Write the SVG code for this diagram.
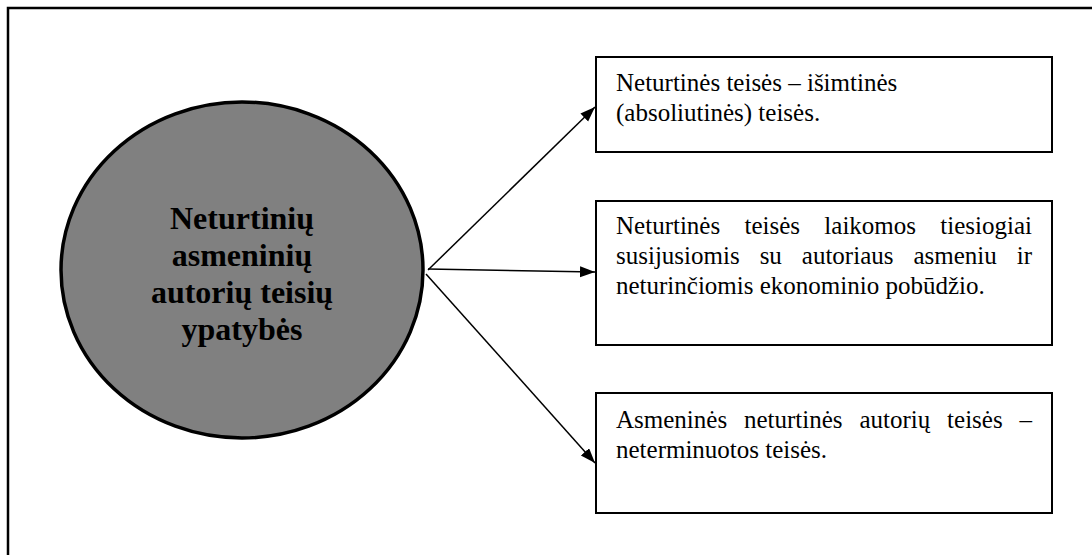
<svg xmlns="http://www.w3.org/2000/svg" width="1092" height="555" viewBox="0 0 1092 555">
  <style>
    .frame { fill: none; stroke: #000; stroke-width: 2.5; }
    .box { fill: #fff; stroke: #000; stroke-width: 2; }
    .hub { fill: #808080; stroke: #000; stroke-width: 3.5; }
    .hubtxt { font-family: "Liberation Serif", "Times New Roman", serif; font-weight: bold; font-size: 32px; fill: #000; text-anchor: middle; }
    .txt { font-family: "Liberation Serif", "Times New Roman", serif; font-size: 25px; fill: #000; }
    .conn { stroke: #000; stroke-width: 1.5; fill: none; marker-end: url(#arrow); }
  </style>
  <defs>
    <marker id="arrow" markerUnits="userSpaceOnUse" markerWidth="16" markerHeight="12" refX="15" refY="5.5" orient="auto">
      <path d="M0,0 L15,5.5 L0,11 z" fill="#000"/>
    </marker>
  </defs>
  <rect width="1092" height="555" fill="#fff"/>
  <rect class="frame" x="8" y="8" width="1100" height="570"/>

  <g id="connectors">
    <line class="conn" x1="428" y1="270" x2="595" y2="107"/>
    <line class="conn" x1="428" y1="269" x2="595" y2="272"/>
    <line class="conn" x1="426" y1="274" x2="595" y2="463"/>
  </g>

  <g id="hub">
    <ellipse class="hub" cx="242" cy="270" rx="181" ry="168"/>
    <text class="hubtxt" x="242" y="229">Neturtinių</text>
    <text class="hubtxt" x="242" y="266">asmeninių</text>
    <text class="hubtxt" x="242" y="303">autorių teisių</text>
    <text class="hubtxt" x="242" y="340">ypatybės</text>
  </g>

  <g id="box1">
    <rect class="box" x="596" y="57" width="456" height="95"/>
    <text class="txt" x="616" y="91">Neturtinės teisės – išimtinės</text>
    <text class="txt" x="616" y="121">(absoliutinės) teisės.</text>
  </g>

  <g id="box2">
    <rect class="box" x="596" y="201" width="456" height="144"/>
    <text class="txt" x="616" y="234" word-spacing="18" textLength="416" lengthAdjust="spacing">Neturtinės teisės laikomos tiesiogiai</text>
    <text class="txt" x="616" y="264" word-spacing="13.7" textLength="416" lengthAdjust="spacing">susijusiomis su autoriaus asmeniu ir</text>
    <text class="txt" x="616" y="294">neturinčiomis ekonominio pobūdžio.</text>
  </g>

  <g id="box3">
    <rect class="box" x="596" y="393" width="456" height="120"/>
    <text class="txt" x="616" y="428" word-spacing="10.6" textLength="416" lengthAdjust="spacing">Asmeninės neturtinės autorių teisės –</text>
    <text class="txt" x="616" y="458">neterminuotos teisės.</text>
  </g>
</svg>
